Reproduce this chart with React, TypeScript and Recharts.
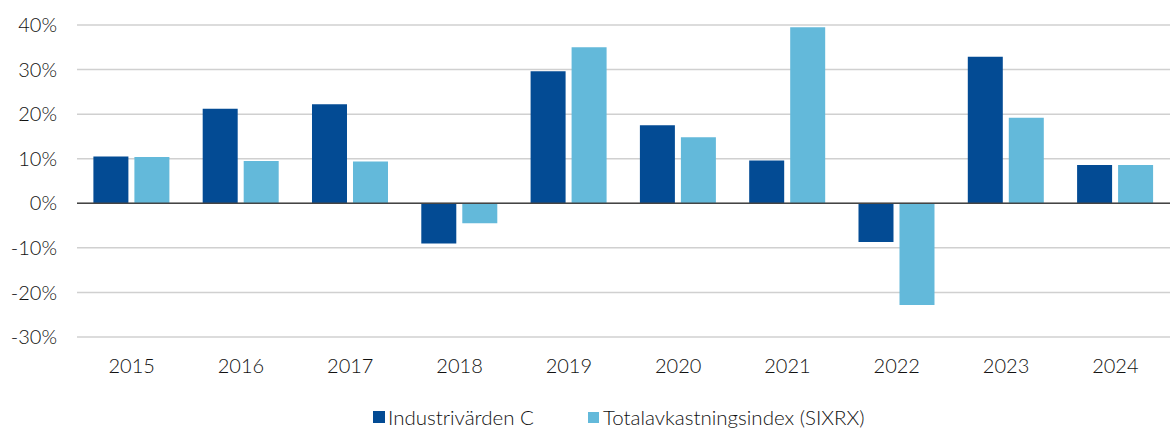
import React from "react";
import { BarChart, Bar, XAxis, YAxis, CartesianGrid, ReferenceLine, Legend } from "recharts";

const years = ["2015", "2016", "2017", "2018", "2019", "2020", "2021", "2022", "2023", "2024"];
const industrivarden = [10.5, 21.2, 22.2, -9.0, 29.6, 17.5, 9.6, -8.7, 32.9, 8.6];
const sixrx = [10.4, 9.5, 9.4, -4.5, 35.0, 14.8, 39.5, -22.8, 19.2, 8.6];
const yTicks = [-30, -20, -10, 0, 10, 20, 30, 40];

const seriesNames = ["Industrivärden C", "Totalavkastningsindex (SIXRX)"];
const colors = ["#034b94", "#63b9da"];

const data = years.map((y, i) => ({ year: y, a: industrivarden[i], b: sixrx[i] }));

const FONT = "Lato, 'Open Sans', sans-serif";

const LegendContent = () => (
  <div style={{ height: 40, position: "relative", fontFamily: FONT, fontSize: 20.5, fontWeight: 300, color: "#111" }}>
    <div style={{ position: "absolute", left: 373, top: 15, display: "flex", alignItems: "center", lineHeight: "24px" }}>
      <span style={{ width: 12, height: 12, background: colors[0], display: "inline-block", marginRight: 3 }} />
      <span>{seriesNames[0]}</span>
    </div>
    <div style={{ position: "absolute", left: 588, top: 15, display: "flex", alignItems: "center", lineHeight: "24px" }}>
      <span style={{ width: 11, height: 11, background: colors[1], display: "inline-block", marginRight: 4 }} />
      <span>{seriesNames[1]}</span>
    </div>
  </div>
);

export default function App() {
  return (
    <div style={{ position: "absolute", left: 0, top: 0, background: "#fff" }}>
      <BarChart
        width={1170}
        height={430}
        data={data}
        margin={{ top: 25, right: 0, left: 0, bottom: 0 }}
        barCategoryGap="15%"
        barGap={6}
      >
        <CartesianGrid vertical={false} stroke="#d0d0d0" strokeWidth={1.5} />
        <XAxis
          dataKey="year"
          axisLine={false}
          tickLine={false}
          tickSize={0}
          tickMargin={22}
          height={53}
          tick={{ fill: "#111", fontSize: 20, fontWeight: 300, fontFamily: FONT }}
        />
        <YAxis
          domain={[-30, 40]}
          ticks={yTicks}
          width={77}
          axisLine={false}
          tickLine={false}
          tickSize={0}
          tickMargin={20}
          tickFormatter={(v) => `${v}%`}
          tick={{ fill: "#111", fontSize: 20, fontWeight: 300, fontFamily: FONT }}
        />
        <ReferenceLine y={0} stroke="#444" strokeWidth={1.5} />
        <Legend verticalAlign="bottom" height={40} content={<LegendContent />} />
        <Bar dataKey="a" name={seriesNames[0]} fill={colors[0]} isAnimationActive={false} />
        <Bar dataKey="b" name={seriesNames[1]} fill={colors[1]} isAnimationActive={false} />
      </BarChart>
    </div>
  );
}
